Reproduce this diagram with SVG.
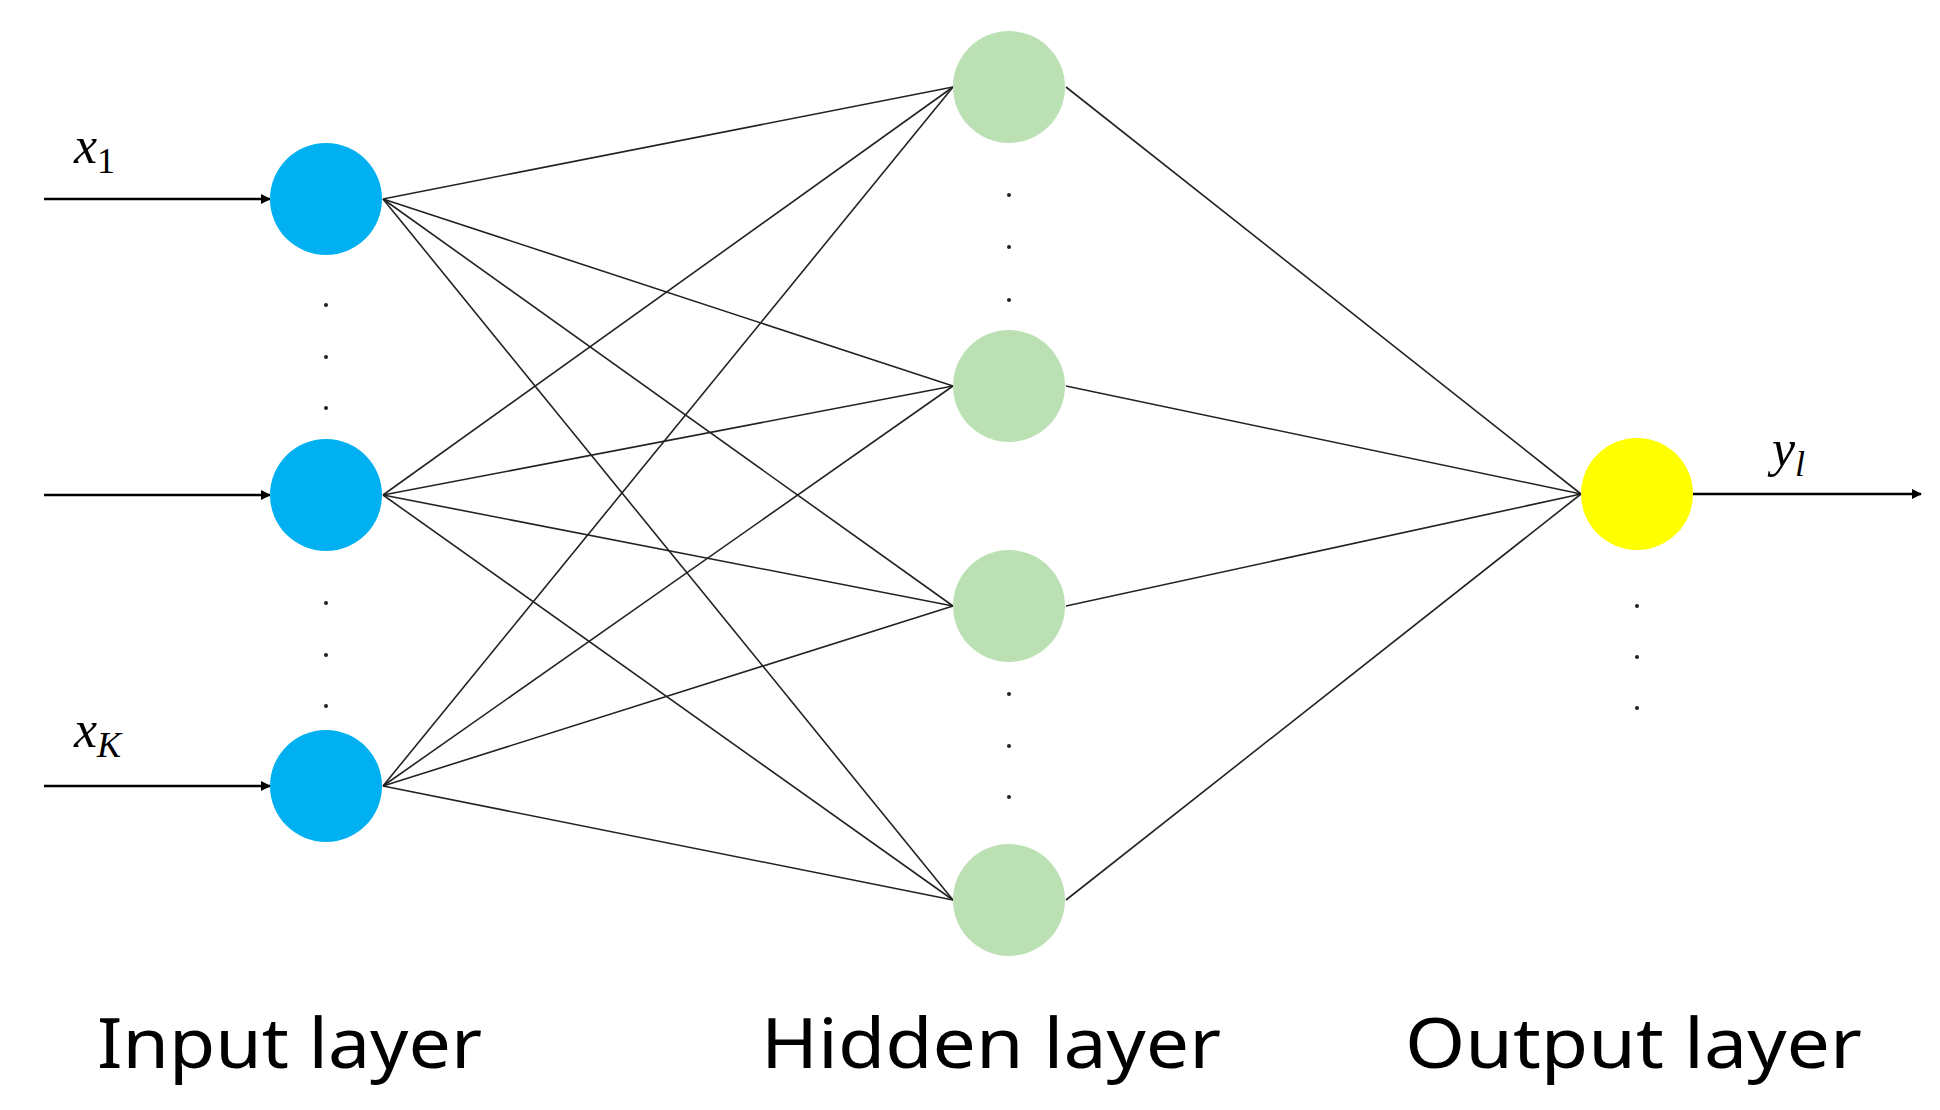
<svg xmlns="http://www.w3.org/2000/svg" width="1940" height="1110" viewBox="0 0 1940 1110">
<style>
.c{stroke:#222;stroke-width:1.6;fill:none}
.a{stroke:#000;stroke-width:2.5;fill:none}
.lbl{font-family:"Noto Sans","DejaVu Sans",sans-serif;font-size:70px;fill:#000}
.m{font-family:"Liberation Serif",serif;font-style:italic;font-size:52px;fill:#000}
.s{font-family:"Liberation Serif",serif;font-size:36px;fill:#000}
.d{fill:#222}
</style>
<defs><marker id="ar" markerWidth="10" markerHeight="10" refX="9" refY="5" orient="auto" markerUnits="userSpaceOnUse" viewBox="0 0 10 10"><path d="M0,0 L10,5 L0,10 z" fill="#000"/></marker></defs>
<rect width="1940" height="1110" fill="#fff"/>
<g id="connectors">
<line class="c" x1="383" y1="199" x2="953" y2="87"/><line class="c" x1="383" y1="199" x2="953" y2="386"/><line class="c" x1="383" y1="199" x2="953" y2="606"/><line class="c" x1="383" y1="199" x2="953" y2="900"/>
<line class="c" x1="383" y1="495" x2="953" y2="87"/><line class="c" x1="383" y1="495" x2="953" y2="386"/><line class="c" x1="383" y1="495" x2="953" y2="606"/><line class="c" x1="383" y1="495" x2="953" y2="900"/>
<line class="c" x1="383" y1="786" x2="953" y2="87"/><line class="c" x1="383" y1="786" x2="953" y2="386"/><line class="c" x1="383" y1="786" x2="953" y2="606"/><line class="c" x1="383" y1="786" x2="953" y2="900"/>
<line class="c" x1="1066" y1="87" x2="1581" y2="494"/><line class="c" x1="1066" y1="386" x2="1581" y2="494"/><line class="c" x1="1066" y1="606" x2="1581" y2="494"/><line class="c" x1="1066" y1="900" x2="1581" y2="494"/>
<line class="a" x1="44" y1="199" x2="270" y2="199" marker-end="url(#ar)"/>
<line class="a" x1="44" y1="495" x2="270" y2="495" marker-end="url(#ar)"/>
<line class="a" x1="44" y1="786" x2="270" y2="786" marker-end="url(#ar)"/>
<line class="a" x1="1693" y1="494" x2="1921" y2="494" marker-end="url(#ar)"/>
</g>
<g id="input1"><circle cx="326" cy="199" r="56" fill="#00B0F0"/></g>
<g id="input2"><circle cx="326" cy="495" r="56" fill="#00B0F0"/></g>
<g id="inputK"><circle cx="326" cy="786" r="56" fill="#00B0F0"/></g>
<g id="hidden1"><circle cx="1009" cy="87" r="56" fill="#BBE0B4"/></g>
<g id="hidden2"><circle cx="1009" cy="386" r="56" fill="#BBE0B4"/></g>
<g id="hidden3"><circle cx="1009" cy="606" r="56" fill="#BBE0B4"/></g>
<g id="hidden4"><circle cx="1009" cy="900" r="56" fill="#BBE0B4"/></g>
<g id="output"><circle cx="1637" cy="494" r="56" fill="#FFFF00"/></g>
<g id="dots">
<circle class="d" cx="326" cy="305" r="2"/><circle class="d" cx="326" cy="357" r="2"/><circle class="d" cx="326" cy="408" r="2"/>
<circle class="d" cx="326" cy="603" r="2"/><circle class="d" cx="326" cy="655" r="2"/><circle class="d" cx="326" cy="706" r="2"/>
<circle class="d" cx="1009" cy="195" r="2"/><circle class="d" cx="1009" cy="247" r="2"/><circle class="d" cx="1009" cy="300" r="2"/>
<circle class="d" cx="1009" cy="694" r="2"/><circle class="d" cx="1009" cy="746" r="2"/><circle class="d" cx="1009" cy="797" r="2"/>
<circle class="d" cx="1637" cy="606" r="2"/><circle class="d" cx="1637" cy="657" r="2"/><circle class="d" cx="1637" cy="708" r="2"/>
</g>
<g id="labels">
<text class="m" x="74" y="163">x<tspan class="s" font-style="normal" dy="10">1</tspan></text>
<text class="m" x="74" y="747">x<tspan class="s" dy="10">K</tspan></text>
<text class="m" x="1772" y="466">y<tspan class="s" dy="10">l</tspan></text>
<text class="lbl" x="97" y="1068" textLength="385" lengthAdjust="spacingAndGlyphs">Input layer</text>
<text class="lbl" x="761" y="1068" textLength="460" lengthAdjust="spacingAndGlyphs">Hidden layer</text>
<text class="lbl" x="1405" y="1068" textLength="457" lengthAdjust="spacingAndGlyphs">Output layer</text>
</g>
</svg>
